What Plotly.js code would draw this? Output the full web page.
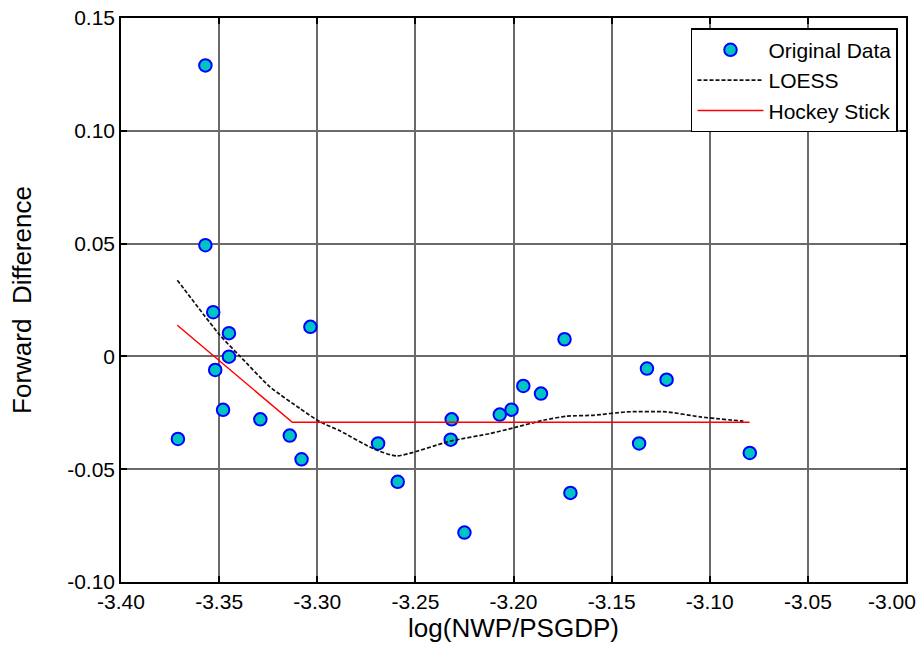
<!DOCTYPE html>
<html>
<head>
<meta charset="utf-8">
<script src="https://cdn.plot.ly/plotly-3.0.1.min.js"></script>
<style>html,body{margin:0;padding:0;background:#fff;}#chart{width:922px;height:648px;}</style>
</head>
<body>
<div id="chart"></div>
<script>
// Original data
var dataX = [-3.357, -3.357, -3.353, -3.345, -3.3035, -3.345, -3.352, -3.348, -3.329, -3.371, -3.314, -3.308,
             -3.269, -3.259, -3.2315, -3.232, -3.225, -3.207, -3.201, -3.195, -3.186, -3.174, -3.171,
             -3.132, -3.122, -3.136, -3.0796];
var dataY = [0.129, 0.0493, 0.0196, 0.0103, 0.0131, -0.0001, -0.006, -0.0237, -0.0279, -0.0366, -0.0351, -0.0456,
             -0.0386, -0.0556, -0.0279, -0.0369, -0.0781, -0.0258, -0.0236, -0.0131, -0.0165, 0.0076, -0.0605,
             -0.0054, -0.0103, -0.0386, -0.0428];
// LOESS curve
var loessX = [-3.3713, -3.3496, -3.3394, -3.3241, -3.3088, -3.2986, -3.2884, -3.2714, -3.2595, -3.2324, -3.212,
              -3.2001, -3.1848, -3.1729, -3.1593, -3.1423, -3.122, -3.105, -3.0829];
var loessY = [0.0338, 0.0094, 0.0001, -0.0135, -0.0231, -0.029, -0.0330, -0.0409, -0.0441, -0.0376, -0.0342,
              -0.0317, -0.0283, -0.0265, -0.0261, -0.0246, -0.0246, -0.0268, -0.0287];
// Hockey stick
var hockeyX = [-3.3713, -3.3127, -3.0797];
var hockeyY = [0.0138, -0.0292, -0.0292];
// Ticks
var xTickVals = [-3.40, -3.35, -3.30, -3.25, -3.20, -3.15, -3.10, -3.05, -3.00];
var xTickText = ["-3.40", "-3.35", "-3.30", "-3.25", "-3.20", "-3.15", "-3.10", "-3.05", "-3.00"];
var yTickVals = [-0.10, -0.05, 0, 0.05, 0.10, 0.15];
var yTickText = ["-0.10", "-0.05", "0", "0.05", "0.10", "0.15"];

var font = "Liberation Sans, Arial, sans-serif";
var nX = xTickVals.length;
// last x tick label is drawn as an annotation pulled inward so it stays inside the page
var axisTickText = xTickText.slice(0, nX - 1).concat([""]);

var traces = [
  {x: dataX, y: dataY, mode: 'markers', type: 'scatter', name: 'Original Data',
   marker: {size: 12.5, color: '#00c4c4', line: {color: '#0000ff', width: 2}}},
  {x: loessX, y: loessY, mode: 'lines', type: 'scatter', name: 'LOESS',
   line: {color: '#111111', width: 1.7, dash: '4px,2px', shape: 'spline', smoothing: 0.6}},
  {x: hockeyX, y: hockeyY, mode: 'lines', type: 'scatter', name: 'Hockey Stick',
   line: {color: '#ff0000', width: 1.5}}
];
var axisCommon = {
  showline: true, linecolor: '#000', linewidth: 1.5, mirror: 'ticks',
  showgrid: true, gridcolor: '#6a6a6a', gridwidth: 1.5,
  ticks: 'inside', ticklen: 6, tickcolor: '#000', tickwidth: 1.5,
  zeroline: false,
  tickfont: {family: font, size: 21, color: '#000'}
};
var layout = {
  width: 922, height: 648,
  margin: {l: 121, r: 16, t: 18, b: 66},
  paper_bgcolor: '#fff', plot_bgcolor: '#fff',
  showlegend: true,
  xaxis: Object.assign({}, axisCommon, {
    range: [-3.40, -3.00], tickvals: xTickVals, ticktext: axisTickText,
    title: {text: 'log(NWP/PSGDP)', font: {family: font, size: 26, color: '#000'}, standoff: 6}
  }),
  yaxis: Object.assign({}, axisCommon, {
    range: [-0.10, 0.15], tickvals: yTickVals, ticktext: yTickText,
    title: {text: 'Forward&nbsp;&nbsp;Difference', font: {family: font, size: 26, color: '#000'}, standoff: 28}
  }),
  annotations: [{
    x: xTickVals[nX - 1], xref: 'x', y: 0, yref: 'paper',
    text: xTickText[nX - 1], showarrow: false,
    xanchor: 'right', yanchor: 'top', xshift: 12, yshift: -6,
    font: {family: font, size: 21, color: '#000'}
  }],
  legend: {
    x: 0.9898, xanchor: 'right', y: 0.982, yanchor: 'top',
    bgcolor: '#fff', bordercolor: '#000', borderwidth: 1.5,
    font: {family: font, size: 21, color: '#000'},
    itemwidth: 66,
    tracegroupgap: 0
  }
};
Plotly.newPlot('chart', traces, layout, {displayModeBar: false});
</script>
</body>
</html>
